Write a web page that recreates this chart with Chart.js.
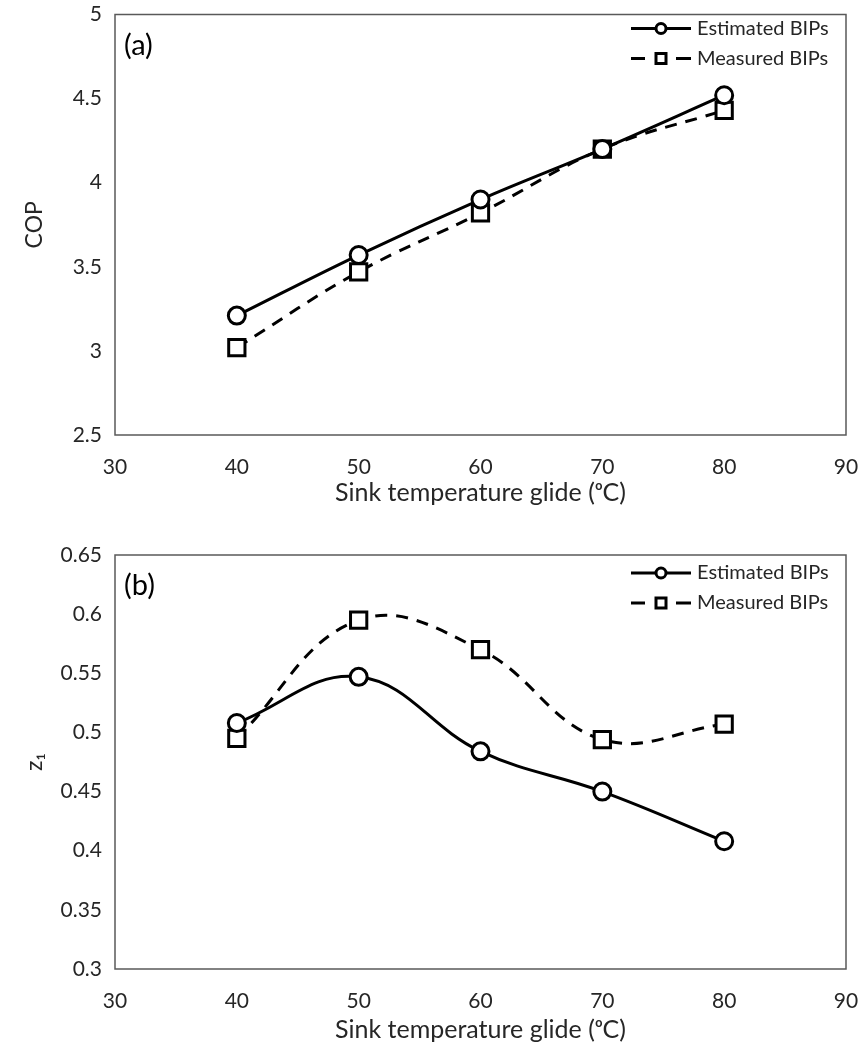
<!DOCTYPE html>
<html><head><meta charset="utf-8">
<script src="https://cdn.jsdelivr.net/npm/chart.js@4/dist/chart.umd.min.js"></script>
<style>
html,body{margin:0;padding:0;background:#fff;overflow:hidden;}
#wrap{position:relative;width:862px;height:1051px;}
canvas{position:absolute;left:0;display:block;}
</style></head><body>
<div id="wrap">
<canvas id="cA" width="862" height="525" style="top:0;width:862px;height:525px"></canvas>
<canvas id="cB" width="862" height="526" style="top:525px;width:862px;height:526px"></canvas>
</div>
<script>
// ---- data ----
const sinkTemps = [40, 50, 60, 70, 80];
const xTickValues = [30, 40, 50, 60, 70, 80, 90];
const copTickValues = [2.5, 3, 3.5, 4, 4.5, 5];
const z1TickValues = [0.3, 0.35, 0.4, 0.45, 0.5, 0.55, 0.6, 0.65];
const copEstimated = [3.21, 3.57, 3.90, 4.20, 4.52];
const copMeasured  = [3.02, 3.47, 3.82, 4.20, 4.43];
const z1Estimated  = [0.508, 0.547, 0.484, 0.450, 0.408];
const z1Measured   = [0.495, 0.595, 0.570, 0.494, 0.507];
const seriesLabels = ['Estimated BIPs', 'Measured BIPs'];
const xTitle = 'Sink temperature glide (\u1D52C)';

const FONT = 'Lato, "Open Sans", sans-serif';
const TXT = '#262626';

function pts(xs, ys){ return xs.map((x,i)=>({x:x, y:ys[i]})); }
function noPad(s){ s.paddingTop = 0; s.paddingBottom = 0; s.paddingLeft = 0; s.paddingRight = 0; }

const framePlugin = {
  id: 'frame',
  afterDraw(chart, args, opts){
    const {ctx, chartArea:a} = chart;
    ctx.save();
    ctx.strokeStyle = '#595959'; ctx.lineWidth = 1.5; ctx.setLineDash([]);
    ctx.strokeRect(a.left, a.top, a.right - a.left, a.bottom - a.top);
    ctx.fillStyle = '#000'; ctx.font = '29px ' + FONT;
    ctx.textBaseline = 'middle'; ctx.textAlign = 'left';
    ctx.fillText(opts.panel, a.left + 9, a.top + 31);
    // legend
    const lx0 = 631, lx1 = 691, lmx = 661;
    chart.data.datasets.forEach((d, i) => {
      const y = a.top + opts.legendTop + i * opts.legendGap;
      ctx.strokeStyle = '#000'; ctx.lineWidth = 3; ctx.setLineDash([]);
      ctx.beginPath();
      if (d.pointStyle === 'circle') {
        ctx.moveTo(lx0, y); ctx.lineTo(lx1, y); ctx.stroke();
        ctx.beginPath(); ctx.fillStyle = '#fff';
        ctx.arc(lmx, y, 5, 0, Math.PI * 2); ctx.fill(); ctx.stroke();
      } else {
        ctx.moveTo(lx0, y); ctx.lineTo(lx0 + 14, y);
        ctx.moveTo(lx1 - 15, y); ctx.lineTo(lx1, y); ctx.stroke();
        ctx.fillStyle = '#fff';
        ctx.fillRect(lmx - 5, y - 5, 10, 10); ctx.strokeRect(lmx - 5, y - 5, 10, 10);
      }
      ctx.fillStyle = TXT; ctx.font = '20px ' + FONT;
      ctx.textAlign = 'left'; ctx.textBaseline = 'middle';
      ctx.fillText(d.label, 697, y);
    });
    ctx.restore();
  }
};

function makeChart(id, est, meas, yTicks, yTitle, panel, layout){
  return new Chart(document.getElementById(id), {
    type: 'line',
    data: {
      datasets: [
        { label: seriesLabels[0], data: pts(sinkTemps, est), borderColor: '#000', borderWidth: 3,
          tension: 0.4, pointStyle: 'circle', pointRadius: 8.5, pointBorderWidth: 3,
          pointBackgroundColor: '#fff', pointBorderColor: '#000', fill: false },
        { label: seriesLabels[1], data: pts(sinkTemps, meas), borderColor: '#000', borderWidth: 3,
          borderDash: [12, 9], tension: 0.4, pointStyle: 'rect', pointRadius: 11.5, pointBorderWidth: 3,
          pointBackgroundColor: '#fff', pointBorderColor: '#000', fill: false }
      ]
    },
    options: {
      responsive: false, animation: false, devicePixelRatio: 1,
      layout: { padding: { top: layout.top, right: 16, left: 0, bottom: 0 } },
      plugins: {
        legend: { display: false }, tooltip: { enabled: false },
        frame: { panel: panel, legendTop: layout.legTop, legendGap: 30 }
      },
      scales: {
        x: {
          type: 'linear', min: 30, max: 90,
          afterBuildTicks: s => { s.ticks = xTickValues.map(v => ({value: v})); },
          afterFit: s => { s.height = layout.xh; noPad(s); },
          grid: { display: false, drawTicks: false }, border: { display: false },
          ticks: { padding: 20, color: TXT, font: { family: FONT, size: 21 }, maxRotation: 0 },
          title: { display: true, text: xTitle, color: TXT, font: { family: FONT, size: 25 },
                   padding: { top: 0, bottom: layout.xtPad } }
        },
        y: {
          type: 'linear', min: yTicks[0], max: yTicks[yTicks.length - 1],
          afterBuildTicks: s => { s.ticks = yTicks.map(v => ({value: v})); },
          afterFit: s => { s.width = 115; noPad(s); },
          grid: { display: false, drawTicks: false }, border: { display: false },
          ticks: { padding: 13, color: TXT, font: { family: FONT, size: 21 },
                   callback: v => String(parseFloat(Number(v).toFixed(2))) },
          title: { display: true, text: yTitle, color: TXT, font: { family: FONT, size: 23 },
                   padding: { top: 21, bottom: 0 } }
        }
      }
    },
    plugins: [framePlugin]
  });
}

makeChart('cA', copEstimated, copMeasured, copTickValues, 'COP', '(a)',
  { top: 14, xh: 90, xtPad: 17, legTop: 14 });
makeChart('cB', z1Estimated, z1Measured, z1TickValues, 'z\u2081', '(b)',
  { top: 30, xh: 82, xtPad: 6, legTop: 18 });
</script>
</body></html>
